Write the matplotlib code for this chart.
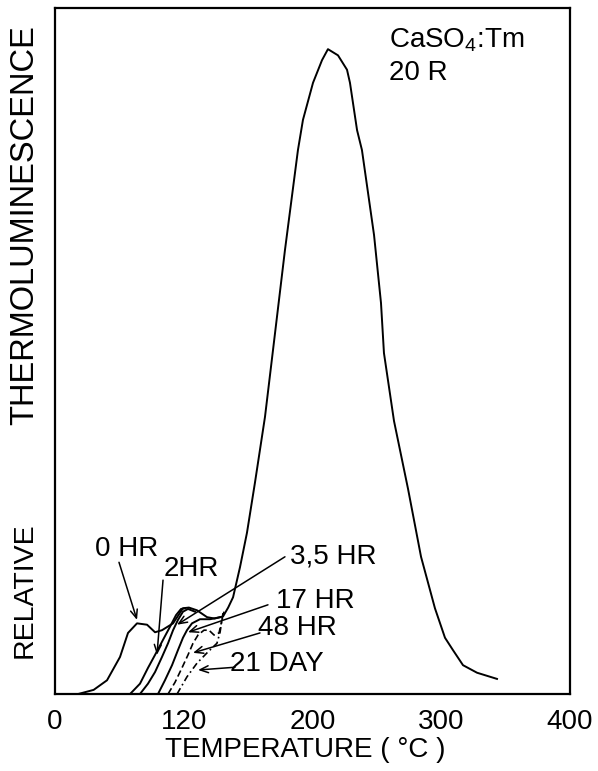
import matplotlib
matplotlib.use("Agg")
import matplotlib.pyplot as plt

plt.rcParams['font.family'] = ['Liberation Sans', 'DejaVu Sans']
plt.rcParams['mathtext.default'] = 'regular'

# ---- data (temperature in deg C, relative TL in % of axis height) ----
t_0hr = [18, 30, 40.4, 50.5, 56.7, 63.7, 71.5, 77.7, 83.1, 91.7, 99.4, 104, 110.3, 118.1,
         124, 130.5, 134.5, 138.3, 143.7, 149.1, 155.3, 163.1, 169.3, 178.6, 188.7, 192.6,
         200.4, 207.4, 212.0, 219.8, 226.8, 229.1, 234.6, 238.4, 247.8, 253.2, 255.5,
         263.3, 274.2, 284.3, 295.1, 302.9, 309.1, 316.9, 327.8, 343.3]
i_0hr = [0, 0.6, 2.0, 5.4, 8.9, 10.3, 10.1, 9.0, 9.3, 10.3, 12.5, 12.6, 12.2, 11.2,
         11.0, 11.3, 12.6, 14.1, 18.5, 23.5, 30.8, 40.4, 50.1, 64.7, 79.3, 83.7,
         89.1, 92.4, 94.0, 93.1, 91.0, 89.1, 82.2, 79.3, 66.9, 57.0, 49.7,
         39.8, 29.9, 20.0, 12.5, 8.2, 6.4, 4.2, 3.1, 2.2]

t_2hr = [58.3, 66.0, 72.2, 77.7, 83.9, 89.3, 94.0, 97.9, 101.0]
i_2hr = [0, 1.5, 3.8, 5.7, 7.9, 9.8, 11.5, 12.4, 12.5]

t_35hr = [66.0, 72.2, 77.7, 83.1, 87.8, 91.7, 95.5, 99.4, 103.3, 108.7]
i_35hr = [0, 1.5, 3.2, 5.4, 7.4, 9.3, 10.8, 12.0, 12.4, 12.0]

t_17hr = [80.0, 85.4, 90.9, 95.5, 99.4, 102.5, 106.4, 112.6, 120.4, 128.2]
i_17hr = [0, 2.0, 4.2, 6.4, 8.2, 9.3, 10.3, 10.9, 10.9, 11.2]

t_48hr = [87.8, 93.2, 98.6, 103.3, 107.2, 111.1, 115.7, 119.6, 123.5, 127.4, 129.7, 131.3]
i_48hr = [0, 1.7, 3.8, 5.7, 7.4, 8.6, 9.3, 9.3, 8.6, 8.9, 10.8, 12.0]

t_21day = [94.8, 102.5, 110.3, 118.1, 125.8, 128.2, 130.5]
i_21day = [0, 2.5, 4.5, 6.0, 7.4, 9.0, 11.8]

tick_pos = [0, 100, 200, 300, 400]
tick_labels = ['0', '120', '200', '300', '400']

# ---- figure ----
fig = plt.figure(figsize=(5.98, 7.71), dpi=100)
ax = fig.add_axes([55 / 598, 1 - 694 / 771, 515 / 598, 686 / 771])
ax.set_xlim(0, 400)
ax.set_ylim(0, 100)

lw = 1.4
ax.plot(t_0hr, i_0hr, color='black', lw=lw)
ax.plot(t_2hr, i_2hr, color='black', lw=lw)
ax.plot(t_35hr, i_35hr, color='black', lw=lw)
ax.plot(t_17hr, i_17hr, color='black', lw=lw)
ax.plot(t_48hr, i_48hr, color='black', lw=1.2, dashes=(4, 2))
ax.plot(t_21day, i_21day, color='black', lw=1.2, dashes=(4, 2, 1, 2))

for s in ax.spines.values():
    s.set_linewidth(1.6)

ax.set_xticks(tick_pos)
ax.set_xticklabels(tick_labels)
ax.tick_params(axis='x', which='major', length=0, pad=11, labelsize=20)
ax.set_xticks([200, 300], minor=True)
ax.tick_params(axis='x', which='minor', direction='in', length=13, width=1.4)
ax.set_yticks([])

fs = 20
arrow = dict(arrowstyle='->,head_length=0.6,head_width=0.25', color='black', lw=1.1,
             shrinkA=0, shrinkB=0)

labels = [
    ('0 HR', (55.9, 21.1), (49.7, 19.2), (63.7, 10.8)),
    ('2HR', (105.6, 18.2), (83.9, 16.6), (79.2, 5.7)),
    ('3,5 HR', (215.9, 20.0), (178.6, 20.0), (94.8, 10.1)),
    ('17 HR', (201.9, 13.6), (165.4, 13.0), (103.3, 9.0)),
    ('48 HR', (188.0, 9.6), (159.2, 8.9), (107.2, 6.0)),
    ('21 DAY', (172.4, 4.4), (139.8, 3.9), (111.1, 3.5)),
]
for txt, tpos, start, tip in labels:
    ax.text(tpos[0], tpos[1], txt, fontsize=fs, ha='center', va='center')
    ax.annotate('', xy=tip, xytext=start, arrowprops=arrow)

fig.text(389 / 598, 1 - 40 / 771, r'CaSO$_4$:Tm', fontsize=fs, ha='left', va='center')
fig.text(389 / 598, 1 - 73 / 771, '20 R', fontsize=fs, ha='left', va='center')

fig.text(305 / 598, 1 - 750 / 771, 'TEMPERATURE ( °C )', fontsize=fs, ha='center', va='center')
fig.text(25 / 598, 1 - 590 / 771, 'RELATIVE', fontsize=20.5,
         ha='center', va='center', rotation=90)
fig.text(25 / 598, 1 - 225 / 771, 'THERMOLUMINESCENCE', fontsize=23.5,
         ha='center', va='center', rotation=90)

fig.savefig('out.png', dpi=100)
